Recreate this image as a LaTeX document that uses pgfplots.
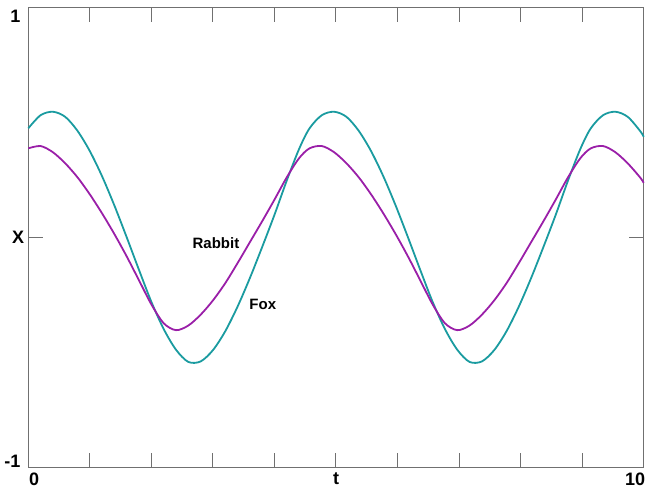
\documentclass[border=0pt]{standalone}
\usepackage{pgfplots}
\pgfplotsset{compat=1.18}
\usepackage{fontspec}
\setmainfont{Liberation Sans}
\definecolor{rabbitc}{HTML}{9A1FA8}
\definecolor{foxc}{HTML}{1A9BA0}
\definecolor{axgray}{HTML}{707070}
\begin{document}
\begin{tikzpicture}
\useasboundingbox (-28.3bp,-25bp) rectangle (618bp,468bp);
\begin{axis}[
  scale only axis,
  width=615.7bp, height=460.5bp,
  xmin=0, xmax=10, ymin=-1, ymax=1,
  xtick={1,2,3,4,5,6,7,8,9}, xticklabels={},
  ytick={0}, yticklabels={},
  tick pos=both,
  tick align=inside,
  major tick length=15bp,
  axis line style={axgray, line width=1.1bp},
  tick style={axgray, line width=1bp},
  clip=false,
]
\addplot[foxc, line width=1.8bp, smooth] coordinates {
(0,0.475) (0.2,0.532) (0.4,0.547) (0.6,0.525) (0.8,0.464) (1.0,0.376)
(1.2,0.266) (1.4,0.139) (1.6,0.001) (1.8,-0.141) (2.0,-0.279) (2.2,-0.397)
(2.4,-0.487) (2.6,-0.540) (2.8,-0.538) (3.0,-0.489) (3.2,-0.407)
(3.4,-0.300) (3.6,-0.176) (3.8,-0.041) (4.0,0.099) (4.2,0.248) (4.4,0.385)
(4.57,0.475) (4.77,0.532) (4.97,0.547) (5.17,0.525) (5.37,0.464) (5.57,0.376)
(5.77,0.266) (5.97,0.139) (6.17,0.001) (6.37,-0.141) (6.57,-0.279) (6.77,-0.397)
(6.97,-0.487) (7.17,-0.540) (7.37,-0.538) (7.57,-0.489) (7.77,-0.407)
(7.97,-0.300) (8.17,-0.176) (8.37,-0.041) (8.57,0.099) (8.77,0.248) (8.97,0.385)
(9.14,0.475) (9.34,0.532) (9.54,0.547) (9.74,0.525) (9.94,0.464) (10.0,0.438)
};
\addplot[rabbitc, line width=1.8bp, smooth] coordinates {
(0,0.388) (0.2,0.398) (0.4,0.371) (0.6,0.323) (0.8,0.262)
(1.0,0.188) (1.2,0.105) (1.4,0.015) (1.6,-0.082) (1.8,-0.186) (2.0,-0.290)
(2.2,-0.372) (2.4,-0.402) (2.6,-0.382) (2.8,-0.335) (3.0,-0.273) (3.2,-0.198)
(3.4,-0.111) (3.6,-0.020) (3.8,0.071) (4.0,0.165) (4.2,0.262) (4.4,0.345)
(4.57,0.388) (4.77,0.398) (4.97,0.371) (5.17,0.323) (5.37,0.262)
(5.57,0.188) (5.77,0.105) (5.97,0.015) (6.17,-0.082) (6.37,-0.186) (6.57,-0.290)
(6.77,-0.372) (6.97,-0.402) (7.17,-0.382) (7.37,-0.335) (7.57,-0.273) (7.77,-0.198)
(7.97,-0.111) (8.17,-0.020) (8.37,0.071) (8.57,0.165) (8.77,0.262) (8.97,0.345)
(9.14,0.388) (9.34,0.398) (9.54,0.371) (9.74,0.323) (9.94,0.262)
(10.0,0.238)
};
\node[font=\bfseries\fontsize{15bp}{18bp}\selectfont, inner sep=0pt] at (axis cs:3.05,-0.026) {Rabbit};
\node[font=\bfseries\fontsize{15bp}{18bp}\selectfont, inner sep=0pt] at (axis cs:3.81,-0.288) {Fox};
\node[font=\bfseries\fontsize{18bp}{20bp}\selectfont, inner sep=0pt, anchor=north east] at ([xshift=-7.7bp,yshift=-2bp]rel axis cs:0,1) {1};
\node[font=\bfseries\fontsize{18bp}{20bp}\selectfont, inner sep=0pt, anchor=east] at ([xshift=-4bp]rel axis cs:0,0.5) {X};
\node[font=\bfseries\fontsize{18bp}{20bp}\selectfont, inner sep=0pt, anchor=south east] at ([xshift=-7.6bp,yshift=0bp]rel axis cs:0,0) {-1};
\node[font=\bfseries\fontsize{18bp}{20bp}\selectfont, inner sep=0pt, anchor=north west] at ([xshift=0.7bp,yshift=-5bp]rel axis cs:0,0) {0};
\node[font=\bfseries\fontsize{18bp}{20bp}\selectfont, inner sep=0pt, anchor=north] at ([yshift=-5bp]rel axis cs:0.5,0) {t};
\node[font=\bfseries\fontsize{18bp}{20bp}\selectfont, inner sep=0pt, anchor=north east] at ([xshift=1.7bp,yshift=-5bp]rel axis cs:1,0) {10};
\end{axis}
\end{tikzpicture}
\end{document}
